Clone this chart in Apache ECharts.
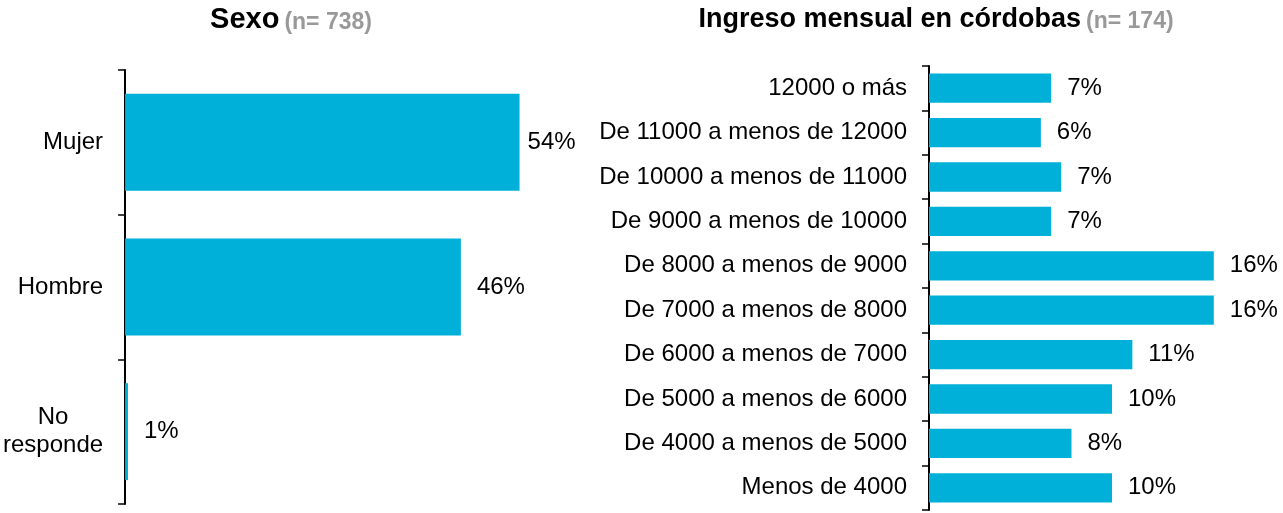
<!DOCTYPE html>
<html>
<head>
<meta charset="utf-8">
<script src="https://cdn.jsdelivr.net/npm/echarts@6/dist/echarts.min.js"></script>
<style>
  html, body { margin: 0; padding: 0; background: #fff; }
  #main { width: 1283px; height: 513px; }
</style>
</head>
<body>
<div id="main"></div>
<script>
// Sexo (n = 738)
const sexoCats = ['Mujer', 'Hombre', 'No responde']
const sexoValues = [53.8, 45.8, 0.4]
const sexoLabels = ['54%', '46%', '1%']

// Ingreso mensual en córdobas (n = 174)
const ingresoCats = [
  '12000 o más',
  'De 11000 a menos de 12000',
  'De 10000 a menos de 11000',
  'De 9000 a menos de 10000',
  'De 8000 a menos de 9000',
  'De 7000 a menos de 8000',
  'De 6000 a menos de 7000',
  'De 5000 a menos de 6000',
  'De 4000 a menos de 5000',
  'Menos de 4000'
]
const ingresoValues = [6.90, 6.32, 7.47, 6.90, 16.09, 16.09, 11.49, 10.34, 8.05, 10.34]

const barColor = '#00B0D8'
const font = 'Liberation Sans, Arial, sans-serif'
const fs = 24

var myChart = echarts.init(document.getElementById('main'))

function catAxis(gridIndex, data, extra) {
  return Object.assign({
    type: 'category',
    gridIndex: gridIndex,
    data: data,
    inverse: true,
    axisLine: { show: true, lineStyle: { color: '#000', width: 2 } },
    axisTick: { show: true, length: 7, lineStyle: { color: '#000', width: 1.5 } },
    axisLabel: { color: '#000', fontFamily: font, fontSize: fs, margin: 22 }
  }, extra || {})
}

function titleRich(size) {
  return {
    a: { fontFamily: font, fontSize: size, fontWeight: 'bold', color: '#000', verticalAlign: 'bottom' },
    b: { fontFamily: font, fontSize: 23, fontWeight: 'bold', color: '#999', verticalAlign: 'bottom' }
  }
}

var option = {
  animation: false,
  title: [
    {
      text: '{a|Sexo} {b|(n= 738)}',
      left: 286, top: 0, textAlign: 'center',
      textStyle: { rich: titleRich(29) }
    },
    {
      text: '{a|Ingreso mensual en córdobas} {b|(n= 174)}',
      left: 931, top: 1, textAlign: 'center',
      textStyle: { rich: titleRich(27) }
    }
  ],
  grid: [
    { left: 125, top: 70, width: 440, height: 434 },
    { left: 929, top: 66, width: 358, height: 444 }
  ],
  xAxis: [
    { type: 'value', gridIndex: 0, min: 0, max: 60, show: false },
    { type: 'value', gridIndex: 1, min: 0, max: 20, show: false }
  ],
  yAxis: [
    catAxis(0, sexoCats, {
      axisLabel: {
        color: '#000', fontFamily: font, fontSize: fs, margin: 22, lineHeight: 28,
        formatter: function (v) {
          // two line label, lines centred on each other
          return v.split(' ').map(function (p) { return '{c|' + p + '}' }).join('\n')
        },
        rich: { c: { align: 'center', fontFamily: font, fontSize: fs, color: '#000', lineHeight: 28 } }
      }
    }),
    catAxis(1, ingresoCats)
  ],
  series: [
    {
      type: 'bar',
      xAxisIndex: 0, yAxisIndex: 0,
      barCategoryGap: '33%',
      itemStyle: { color: barColor },
      label: {
        show: true, position: 'right', distance: 16,
        color: '#000', fontFamily: font, fontSize: fs,
        formatter: function (p) { return sexoLabels[p.dataIndex] }
      },
      data: sexoValues.map(function (v, i) {
        return i === 0 ? { value: v, label: { distance: 8 } } : v
      })
    },
    {
      type: 'bar',
      xAxisIndex: 1, yAxisIndex: 1,
      barCategoryGap: '34%',
      itemStyle: { color: barColor },
      label: {
        show: true, position: 'right', distance: 16,
        color: '#000', fontFamily: font, fontSize: fs,
        formatter: function (p) { return Math.round(p.value) + '%' }
      },
      data: ingresoValues
    }
  ]
}

myChart.setOption(option)
</script>
</body>
</html>
